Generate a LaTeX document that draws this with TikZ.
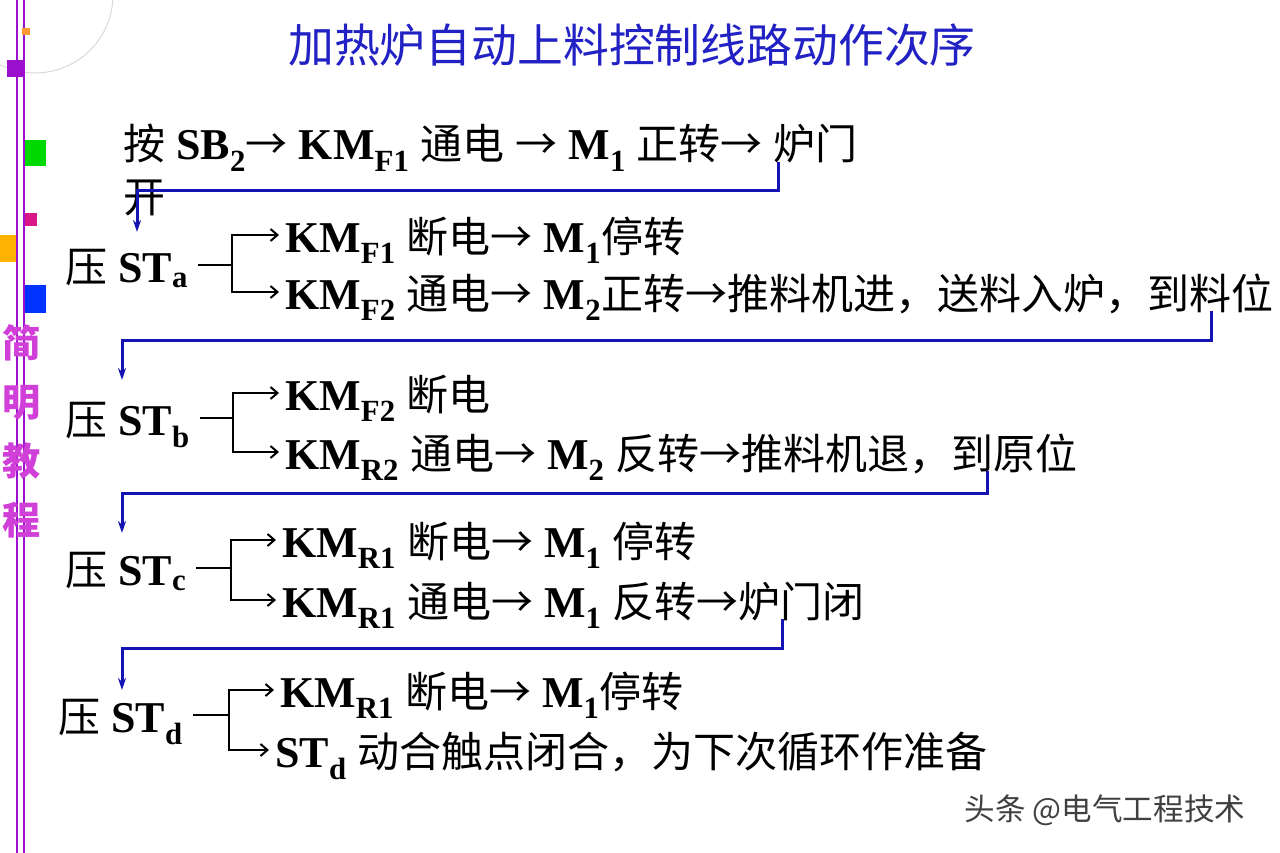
\documentclass[tikz,border=0pt]{standalone}
\usepackage{fontspec}
\setmainfont{Liberation Serif}
\newfontfamily\cjk{Noto Sans CJK SC}[Scale=0.955]
\usetikzlibrary{arrows.meta}

\definecolor{titleblue}{HTML}{2222C4}
\definecolor{linkblue}{HTML}{1414B4}
\definecolor{barpurple}{HTML}{9A10CC}
\definecolor{sidemagenta}{HTML}{D040D8}

\newcommand\zh[1]{{\cjk\mdseries #1}}
\newcommand\lo[1]{\textsubscript{#1}}
\newcommand\nxt{\zh{→}}

\begin{document}
\begin{tikzpicture}[x=1pt,y=-1pt,
    txt/.style={anchor=west, inner sep=0pt, text height=36pt, text depth=2pt,
        font=\fontsize{44}{50}\selectfont\bfseries},
    stem/.style={line width=2pt},
    tip/.style={-{Straight Barb[length=7pt,width=12pt]}, shorten >=6pt},
    flow/.style={linkblue, line width=3pt, -{Stealth[length=12pt,width=8pt]}}]
    \useasboundingbox (0,0) rectangle (1280,853);

    % Draw side bar
    \draw[black!15, line width=1pt] (35,-5) circle (78pt);
    \draw[barpurple, line width=1.5pt] (17,0) -- (17,853);
    \draw[barpurple, line width=1.5pt] (24,0) -- (24,853);
    \fill[orange!80] (22,28) rectangle (30,35);
    \fill[barpurple] (7,60) rectangle (25,77);
    \fill[green!85!black] (25,140) rectangle (46,166);
    \fill[magenta!90!black] (25,213) rectangle (37,226);
    \fill[orange!60!yellow] (0,235) rectangle (16,262);
    \fill[blue!80!cyan] (25,285) rectangle (46,313);
    \node[sidemagenta, align=center, font=\cjk\bfseries\fontsize{40}{59}\selectfont] (side) at (22,431) {简\\明\\教\\程};

    % Draw title
    \node[titleblue, font=\cjk\fontsize{48}{54}\selectfont] (title) at (632,45) {加热炉自动上料控制线路动作次序};

    % Draw first step
    \node[txt] (r1) at (123,143) {\zh{按} SB\lo{2}\nxt{} KM\lo{F1} \zh{通电} \nxt{} M\lo{1} \zh{正转}\nxt{} \zh{炉门}};
    \node[txt] (kai) at (123,196) {\zh{开}};

    % Draw limit switch a
    \node[txt] (sta) at (65,265) {\zh{压} ST\lo{a}};
    \node[txt] (sta1) at (285,235) {KM\lo{F1} \zh{断电}\nxt{} M\lo{1}\zh{停转}};
    \node[txt] (sta2) at (285,292) {KM\lo{F2} \zh{通电}\nxt{} M\lo{2}\zh{正转}\nxt\zh{推料机进，送料入炉，到料位}};
    \coordinate (ja) at (232,265);
    \draw[stem, shorten <=10pt] (sta.east) -- (ja);
    \draw[stem, tip] (ja) |- (sta1);
    \draw[stem, tip] (ja) |- (sta2);

    % Draw limit switch b
    \node[txt] (stb) at (65,418) {\zh{压} ST\lo{b}};
    \node[txt] (stb1) at (285,393) {KM\lo{F2} \zh{断电}};
    \node[txt] (stb2) at (285,452) {KM\lo{R2} \zh{通电}\nxt{} M\lo{2} \zh{反转}\nxt\zh{推料机退，到原位}};
    \coordinate (jb) at (233,418);
    \draw[stem, shorten <=10pt] (stb.east) -- (jb);
    \draw[stem, tip] (jb) |- (stb1);
    \draw[stem, tip] (jb) |- (stb2);

    % Draw limit switch c
    \node[txt] (stc) at (65,568) {\zh{压} ST\lo{c}};
    \node[txt] (stc1) at (282,540) {KM\lo{R1} \zh{断电}\nxt{} M\lo{1} \zh{停转}};
    \node[txt] (stc2) at (282,600) {KM\lo{R1} \zh{通电}\nxt{} M\lo{1} \zh{反转}\nxt\zh{炉门闭}};
    \coordinate (jc) at (231,568);
    \draw[stem, shorten <=10pt] (stc.east) -- (jc);
    \draw[stem, tip] (jc) |- (stc1);
    \draw[stem, tip] (jc) |- (stc2);

    % Draw limit switch d
    \node[txt] (std) at (58,715) {\zh{压} ST\lo{d}};
    \node[txt] (std1) at (280,690) {KM\lo{R1} \zh{断电}\nxt{} M\lo{1}\zh{停转}};
    \node[txt] (std2) at (275,750) {ST\lo{d} \zh{动合触点闭合，为下次循环作准备}};
    \coordinate (jd) at (229,715);
    \draw[stem, shorten <=10pt] (std.east) -- (jd);
    \draw[stem, tip] (jd) |- (std1);
    \draw[stem, tip] (jd) |- (std2);

    % Draw returns to next switch
    \coordinate (ina) at (137,232);
    \coordinate (inb) at (122,380);
    \coordinate (inc) at (122,533);
    \coordinate (ind) at (122,690);
    \draw[flow] ([xshift=-80pt]r1.south east) -- ++(0,28) -| (ina);
    \draw[flow] ([xshift=-62pt]sta2.south east) -- ++(0,29) -| (inb);
    \draw[flow] ([xshift=-91pt]stb2.south east) -- ++(0,22) -| (inc);
    \draw[flow] ([xshift=-82pt]stc2.south east) -- ++(0,29) -| (ind);

    % Watermark
    \node[black!75, font=\cjk\fontsize{32}{36}\selectfont] (mark) at (1105,810) {头条 @电气工程技术};
\end{tikzpicture}
\end{document}
